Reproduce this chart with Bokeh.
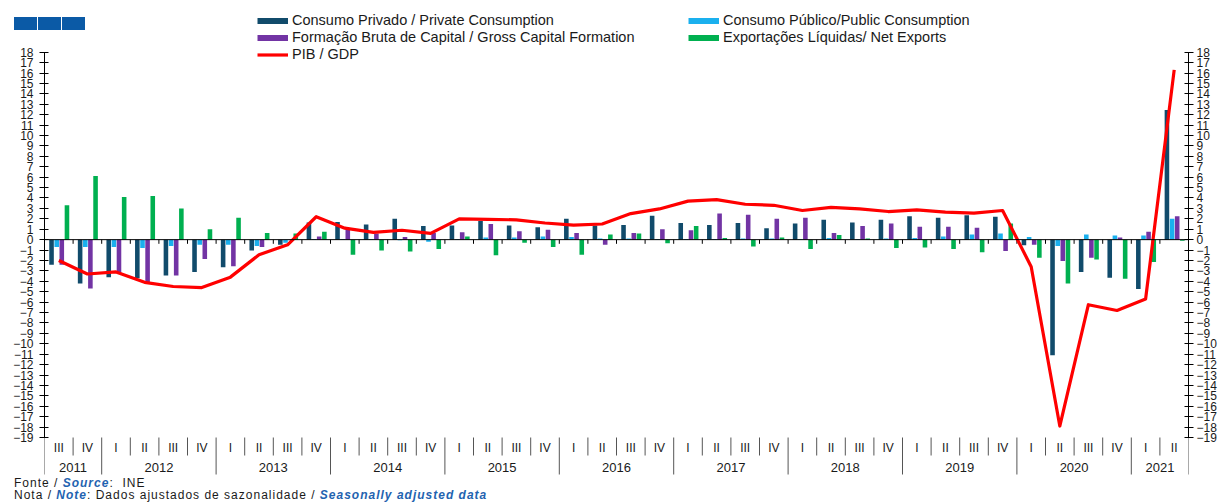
from bokeh.plotting import figure
from bokeh.layouts import column
from bokeh.models import (Range1d, LinearAxis, FixedTicker, Span, Legend, LegendItem,
                          ColumnDataSource, Div)
from bokeh.core.properties import value
from bokeh.embed import file_html
from bokeh.resources import INLINE

# ---------------- data ----------------
years = ["2011", "2012", "2013", "2014", "2015", "2016", "2017", "2018", "2019", "2020", "2021"]
quarter_labels = ["III", "IV"] + ["I", "II", "III", "IV"] * 9 + ["I", "II"]
quarter_years = ["2011"] * 2 + [y for y in years[1:10] for _ in range(4)] + ["2021"] * 2

private_consumption = [-2.4, -4.2, -3.6, -3.7, -3.45, -3.1, -2.65, -1.05, -0.5, 1.65,
                       1.7, 1.45, 2.0, 1.3, 1.35, 1.8, 1.35, 1.2, 2.0, 1.35,
                       1.4, 2.3, 1.6, 1.4, 1.6, 1.1, 1.55, 1.9, 1.65, 1.9,
                       2.25, 2.1, 2.35, 2.2, -0.55, -11.1, -3.1, -3.65, -4.75, 12.45]
public_consumption = [-0.7, -0.7, -0.7, -0.8, -0.6, -0.5, -0.5, -0.6, -0.3, 0.05,
                      0.05, 0.05, -0.05, -0.2, 0.05, 0.2, 0.2, 0.3, 0.25, 0.1,
                      0.1, 0.05, 0.05, 0.05, 0.1, 0.1, 0.05, 0.15, 0.05, 0.1,
                      0.15, 0.3, 0.5, 0.6, 0.25, -0.6, 0.5, 0.4, 0.4, 2.0]
capital_formation = [-2.4, -4.7, -3.2, -4.1, -3.45, -1.85, -2.55, -0.7, -0.05, 0.3,
                     1.1, 0.6, 0.25, 0.65, 0.7, 1.5, 0.8, 0.95, 0.65, -0.5,
                     0.65, 1.0, 0.9, 2.5, 2.4, 2.0, 2.1, 0.65, 1.3, 1.55,
                     1.25, 1.25, 1.15, -1.1, -0.5, -2.05, -1.75, 0.2, 0.75, 2.25]
net_exports = [3.3, 6.1, 4.1, 4.2, 3.0, 1.0, 2.1, 0.65, 0.6, 0.75,
               -1.45, -1.05, -1.15, -0.9, 0.3, -1.5, -0.3, -0.7, -1.45, 0.5,
               0.6, -0.35, 1.3, 0.15, -0.65, 0.2, -0.9, 0.45, 0.1, -0.8,
               -0.75, -0.9, -1.2, 1.55, -1.75, -4.2, -1.9, -3.75, -2.15, -0.1]
gdp = [-2.0, -3.3, -3.1, -4.1, -4.5, -4.6, -3.6, -1.45, -0.5, 2.2,
       1.1, 0.7, 0.9, 0.6, 2.0, 1.95, 1.9, 1.6, 1.4, 1.5,
       2.5, 2.95, 3.7, 3.85, 3.4, 3.3, 2.8, 3.1, 2.95, 2.7,
       2.85, 2.65, 2.55, 2.8, -2.6, -17.9, -6.25, -6.8, -5.7, 16.3]

series_names = ["Consumo Privado / Private Consumption",
                "Consumo Público/Public Consumption",
                "Formação Bruta de Capital / Gross Capital Formation",
                "Exportações Líquidas/ Net Exports"]
gdp_name = "PIB / GDP"
y_ticks = list(range(-19, 19))

# ---------------- styles ----------------
C_PRIV, C_PUB, C_FBC, C_NX, C_GDP = "#114b6b", "#1ab0ee", "#7234a4", "#00b050", "#ff0000"
FONT = "Liberation Sans"
TXT = "#1a1a1a"
BLUE_TXT = "#1f63b0"

n = len(quarter_labels)
W, H = 1219, 476
BL, BR = 44, 26
frame_w = W - BL - BR
px_per_q = frame_w / n
Y_HI = 22.965
Y_LO = -22.745
px_per_unit = H / (Y_HI - Y_LO)


def ydata(px_from_top):
    return Y_HI - px_from_top / px_per_unit


centers = [i + 0.5 for i in range(n)]
bar_w = 4.6 / px_per_q
offsets_px = [-7.3, -2.1, 3.0, 8.2]

p = figure(width=W, height=H, x_range=Range1d(0, n), y_range=Range1d(Y_LO, Y_HI),
           output_backend="svg", toolbar_location=None,
           x_axis_location=None, y_axis_location=None,
           min_border_left=BL, min_border_right=BR, min_border_top=0, min_border_bottom=0)
p.outline_line_color = None
p.background_fill_color = "white"
p.border_fill_color = "white"
p.xgrid.grid_line_color = None
p.ygrid.grid_line_color = None

# zero line
p.add_layout(Span(location=0, dimension="width", line_color="#000000", line_width=1))

# bars
src = ColumnDataSource(dict(x=centers, priv=private_consumption, pub=public_consumption,
                            fbc=capital_formation, nx=net_exports, gdp=gdp))
for field, col, off in zip(["priv", "pub", "fbc", "nx"], [C_PRIV, C_PUB, C_FBC, C_NX], offsets_px):
    xs = [c + off / px_per_q for c in centers]
    p.vbar(x=xs, top=src.data[field], bottom=0, width=bar_w, fill_color=col, line_color=None)

# zero-line quarter ticks
bounds = list(range(1, n))
p.segment(x0=bounds, y0=[0] * len(bounds), x1=bounds, y1=[-0.4] * len(bounds),
          line_color="#000000", line_width=1)

# GDP line
r_gdp = p.line(x="x", y="gdp", source=src, line_color=C_GDP, line_width=3.2, line_join="round")

# axes
for side, standoff in (("left", 6), ("right", 3)):
    ax = LinearAxis(bounds=(-19, 18), ticker=FixedTicker(ticks=y_ticks))
    ax.axis_line_color = "#000000"
    ax.major_tick_line_color = "#000000"
    ax.major_tick_in = 4
    ax.major_tick_out = 5
    ax.minor_tick_line_color = None
    ax.major_label_text_font = FONT
    ax.major_label_text_font_size = "12px"
    ax.major_label_text_color = TXT
    ax.major_label_standoff = standoff
    p.add_layout(ax, side)

# category axis (quarters / years)
y_q_lab = ydata(447)
y_y_lab = ydata(467)
y_q_div = ydata(455)
y_y_div = ydata(474)
p.text(x=centers, y=[y_q_lab] * n, text=quarter_labels, text_align="center", text_baseline="middle",
       text_font=value(FONT), text_font_size="12px", text_color=TXT)

year_idx = {}
for i, yv in enumerate(quarter_years):
    year_idx.setdefault(yv, []).append(i)
year_centers = [(min(v) + max(v) + 1) / 2 for v in year_idx.values()]
p.text(x=year_centers, y=[y_y_lab] * len(year_centers), text=list(year_idx.keys()),
       text_align="center", text_baseline="middle",
       text_font=value(FONT), text_font_size="13px", text_color=TXT)

year_bounds = sorted({min(v) for v in year_idx.values()} | {n})
quarter_bounds = [b for b in range(1, n) if b not in year_bounds]
p.segment(x0=year_bounds, y0=[-19] * len(year_bounds), x1=year_bounds, y1=[y_y_div] * len(year_bounds),
          line_color="#555555", line_width=1)
p.segment(x0=quarter_bounds, y0=[-19] * len(quarter_bounds), x1=quarter_bounds,
          y1=[y_q_div] * len(quarter_bounds), line_color="#555555", line_width=1)

# legend proxies (thick swatches)
nan = float("nan")
proxies = [p.line(x=[nan], y=[nan], line_color=c, line_width=6, line_cap="butt")
           for c in (C_PRIV, C_PUB, C_FBC, C_NX)]


def make_legend(items, loc):
    lg = Legend(items=items, location=loc, orientation="vertical")
    lg.glyph_width = 31
    lg.glyph_height = 17
    lg.label_height = 17
    lg.label_standoff = 4
    lg.spacing = 0
    lg.padding = 0
    lg.margin = 0
    lg.border_line_color = None
    lg.background_fill_alpha = 0
    lg.label_text_font = FONT
    lg.label_text_font_size = "14.5px"
    lg.label_text_color = TXT
    return lg


leg1 = make_legend([LegendItem(label=series_names[0], renderers=[proxies[0]]),
                    LegendItem(label=series_names[2], renderers=[proxies[2]]),
                    LegendItem(label=gdp_name, renderers=[r_gdp])], (213, 413.5))
leg2 = make_legend([LegendItem(label=series_names[1], renderers=[proxies[1]]),
                    LegendItem(label=series_names[3], renderers=[proxies[3]])], (644, 430.5))
p.add_layout(leg1)
p.add_layout(leg2)

# header tiles (absolutely positioned over the top-left corner)
tile = '<div style="width:22.5px;height:12.6px;background:#0b5aa6"></div>'
tiles = Div(text='<div style="display:flex;gap:1.5px">' + tile * 3 + '</div>',
            width=72, height=13,
            styles={"position": "absolute", "left": "9px", "top": "12px", "z-index": "10"})

# footnotes
blue = f'font-weight:bold;font-style:italic;color:{BLUE_TXT}'
foot_html = (
    f'<div style="font-family:\'{FONT}\';font-size:12px;line-height:12px;letter-spacing:1px;'
    f'color:{TXT};padding-left:9px;margin-top:-4px;white-space:nowrap">'
    f'Fonte / <span style="{blue}">Source</span>:&nbsp; INE<br>'
    f'Nota / <span style="{blue}">Note</span>: Dados ajustados de sazonalidade / '
    f'<span style="{blue}">Seasonally adjusted data</span></div>'
)
footer = Div(text=foot_html, width=W, height=26)

layout = column(tiles, p, footer, spacing=0)
open("out.html", "w").write(file_html(layout, INLINE))
